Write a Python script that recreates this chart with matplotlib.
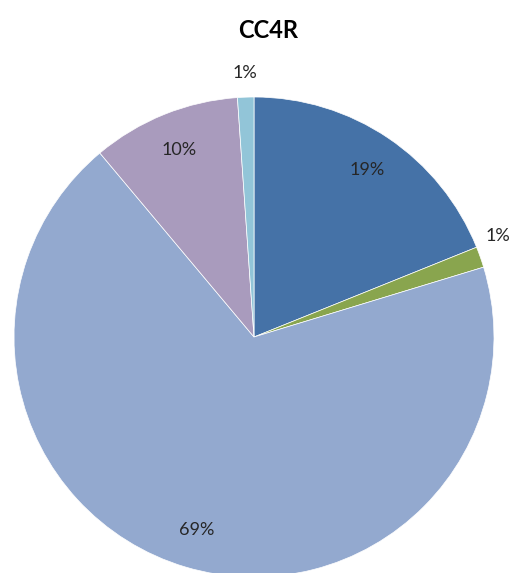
import matplotlib.pyplot as plt
import numpy as np

# slice values (percent), clockwise from 12 o'clock
names = ['A', 'B', 'C', 'D', 'E']
values = [18.9, 1.4, 68.6, 10.0, 1.1]
colors = ['#4572A7', '#89A54E', '#93A9CF', '#A99BBD', '#92C5D8']

plt.rcParams['font.family'] = ['Lato', 'DejaVu Sans']

fig = plt.figure(figsize=(5.24, 5.73), dpi=100)
ax = fig.add_axes([0, 0, 1, 1])

wedges, _ = ax.pie(values, colors=colors, startangle=90, counterclock=False,
                   radius=1, wedgeprops=dict(edgecolor='white', linewidth=0.5))

# percentage labels: inside for big slices, outside for tiny ones
for w, v in zip(wedges, values):
    mid = np.deg2rad((w.theta1 + w.theta2) / 2)
    if v > 5:
        r = 0.84
    else:
        r = 1.1
        if np.cos(mid) > 0.2:   # right side label sits a bit higher
            mid += np.deg2rad(3)
    ax.text(r * np.cos(mid), r * np.sin(mid), '%d%%' % round(v),
            ha='center', va='center', fontsize=13, color='#262626')

ax.set_xlim(-254 / 240, 270 / 240)
ax.set_ylim(-236 / 240, 337 / 240)
ax.axis('off')

fig.text(268 / 524, 1 - 31 / 573, 'CC4R', ha='center', va='center',
         fontsize=17, fontweight='bold', color='black')

fig.savefig('out.png', dpi=100)
